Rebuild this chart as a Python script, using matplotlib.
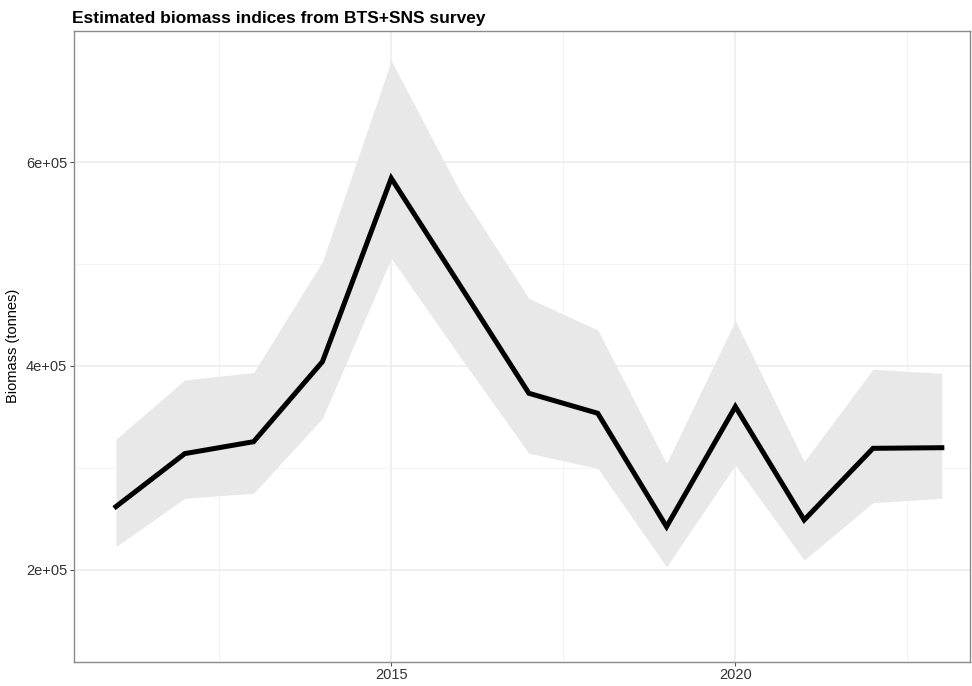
import matplotlib.pyplot as plt
from matplotlib.ticker import FixedLocator, FuncFormatter

plt.rcParams['font.family'] = ['Liberation Sans', 'DejaVu Sans']

# 推定バイオマス指数 (BTS+SNS)
years = [2011, 2012, 2013, 2014, 2015, 2016, 2017, 2018, 2019, 2020, 2021, 2022, 2023]
biomass = [262000, 314000, 325700, 404200, 584200, 479000, 373200, 353600,
           242300, 360100, 248900, 319200, 319800]
upper = [328100, 386300, 393500, 502400, 699600, 571000, 466400, 435300,
         304500, 444500, 306100, 396800, 392800]
lower = [222700, 270200, 275100, 348700, 505700, 409000, 314300, 299600,
         203000, 302800, 209600, 265900, 270200]

x_ticks = [2015, 2020]
x_minor = [2012.5, 2017.5, 2022.5]
y_ticks = [200000, 400000, 600000]
y_minor = [300000, 500000]

fig = plt.figure(figsize=(9.72, 6.86), dpi=100)
ax = fig.add_axes([0.0761, 0.0357, 0.9219, 0.9191])

# 信頼区間と推定値
ax.fill_between(years, lower, upper, color='#E8E8E8', linewidth=0, zorder=2)
ax.plot(years, biomass, color='black', linewidth=3.6, solid_joinstyle='miter', zorder=3)

ax.set_xlim(2010.39, 2023.41)
ax.set_ylim(110000, 728700)

ax.xaxis.set_major_locator(FixedLocator(x_ticks))
ax.xaxis.set_minor_locator(FixedLocator(x_minor))
ax.yaxis.set_major_locator(FixedLocator(y_ticks))
ax.yaxis.set_minor_locator(FixedLocator(y_minor))
ax.yaxis.set_major_formatter(FuncFormatter(lambda v, p: '%de+05' % round(v / 1e5)))

# theme_bw 風の見た目
ax.grid(which='major', color='#EBEBEB', linewidth=1.1, zorder=0)
ax.grid(which='minor', color='#F3F3F3', linewidth=0.6, zorder=0)
ax.set_axisbelow(True)
for s in ax.spines.values():
    s.set_color('#8A8A8A')
    s.set_linewidth(1.0)
ax.tick_params(which='major', length=3, width=0.8, color='#555555',
               labelsize=10.5, labelcolor='#333333', pad=2)
ax.tick_params(which='minor', length=0)

ax.set_ylabel('Biomass (tonnes)', fontsize=10.5, color='black', labelpad=4)
ax.set_title('Estimated biomass indices from BTS+SNS survey', loc='left',
             fontsize=12.5, fontweight='bold', pad=6, x=-0.002)

fig.savefig('out.png', dpi=100)
